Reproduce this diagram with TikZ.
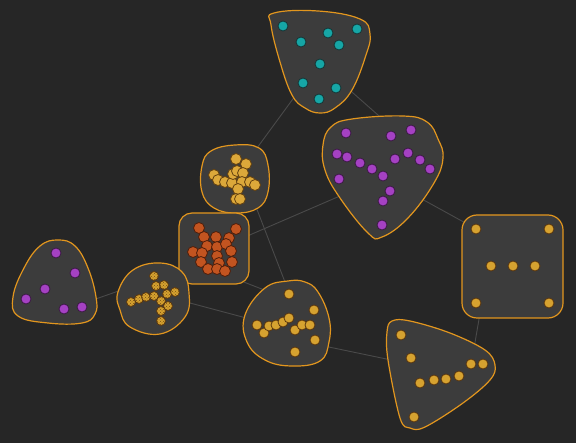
\documentclass[tikz,border=0pt]{standalone}
\usetikzlibrary{patterns}
\definecolor{bgc}{RGB}{38,38,38}
\definecolor{blobfill}{RGB}{60,60,60}
\definecolor{blobline}{RGB}{226,150,30}
\definecolor{edgec}{RGB}{74,74,74}
\definecolor{tealc}{RGB}{22,166,166}
\definecolor{purc}{RGB}{165,65,195}
\definecolor{goldc}{RGB}{214,162,48}
\definecolor{yelc}{RGB}{220,168,58}
\definecolor{orac}{RGB}{194,84,32}
\tikzset{
  blob/.style={fill=blobfill,draw=blobline,line width=1.2pt},
  edge/.style={draw=edgec,line width=0.9pt},
  dotbase/.style={circle,inner sep=0pt,line width=0.8pt},
  tdot/.style={dotbase,minimum size=10pt,fill=tealc,draw={rgb,255:red,20;green,55;blue,55}},
  pdot/.style={dotbase,minimum size=10pt,fill=purc,draw={rgb,255:red,60;green,25;blue,70}},
  gdot/.style={dotbase,minimum size=10pt,fill=goldc,draw={rgb,255:red,90;green,55;blue,15}},
  ydot/.style={dotbase,minimum size=11pt,fill=yelc,draw={rgb,255:red,100;green,65;blue,15}},
  odot/.style={dotbase,minimum size=11pt,fill=orac,draw={rgb,255:red,80;green,30;blue,10}},
  hdot/.style={dotbase,minimum size=9pt,fill=goldc,draw={rgb,255:red,90;green,55;blue,15},
    postaction={pattern=crosshatch dots,pattern color={rgb,255:red,120;green,80;blue,20}}},
}
\begin{document}
\begin{tikzpicture}[x=1pt,y=-1pt]
\fill[bgc] (0,0) rectangle (576,443);
\useasboundingbox (0,0) rectangle (576,443);
% edge end coordinates
\coordinate (tA) at (320,62);   \coordinate (yA) at (235,178);
\coordinate (tB) at (336,78);   \coordinate (pB) at (395,130);
\coordinate (pC) at (400,187);  \coordinate (qC) at (500,242);
\coordinate (qD) at (484,290);  \coordinate (rD) at (472,360);
\coordinate (gE) at (300,341);  \coordinate (rE) at (420,366);
\coordinate (sF) at (160,295);  \coordinate (gF) at (280,327);
\coordinate (lG) at (70,308);   \coordinate (sG) at (150,280);
\coordinate (oH) at (215,250);  \coordinate (pH) at (370,183);
\coordinate (yI) at (246,181);  \coordinate (gI) at (295,308);
\coordinate (oJ) at (200,265);  \coordinate (gJ) at (290,300);
\draw[edge] (tA) -- (yA);
\draw[edge] (tB) -- (pB);
\draw[edge] (pC) -- (qC);
\draw[edge] (qD) -- (rD);
\draw[edge] (gE) -- (rE);
\draw[edge] (sF) -- (gF);
\draw[edge] (lG) -- (sG);
\draw[edge] (oH) -- (pH);
\draw[edge] (yI) -- (gI);
\draw[edge] (oJ) -- (gJ);
% blobs
\draw[blob] plot[smooth cycle,tension=0.7] coordinates {(274,13) (318,11) (360,19) (370,34) (366,55) (352,90) (335,108) (320,113) (305,108) (292,95) (280,62) (271,25)};
\draw[blob] plot[smooth cycle,tension=0.7] coordinates {(323,145) (331,127) (352,119) (403,116) (427,122) (438,139) (443,158) (434,183) (408,218) (382,237) (368,233) (340,198) (325,170)};
\draw[blob] plot[smooth cycle,tension=0.7] coordinates {(202,166) (211,151) (235,145) (259,148) (268,165) (268,192) (258,208) (236,213) (214,208) (202,192)};
\draw[blob,rounded corners=13pt] (179,213) rectangle (249,284);
\draw[blob] plot[smooth cycle,tension=0.7] coordinates {(118,292) (133,270) (160,263) (182,272) (189,293) (185,317) (160,334) (130,327) (120,310)};
\draw[blob] plot[smooth cycle,tension=0.7] coordinates {(58,240) (40,246) (24,268) (13,297) (18,316) (48,323) (82,323) (95,314) (96,297) (88,268) (75,246)};
\draw[blob] plot[smooth cycle,tension=0.7] coordinates {(288,281) (305,282) (318,292) (329,318) (329,342) (320,361) (292,366) (265,360) (247,342) (245,315) (265,288)};
\draw[blob] plot[smooth cycle,tension=0.6] coordinates {(392,321) (410,321) (450,333) (485,350) (495,365) (490,380) (463,403) (425,427) (410,428) (400,418) (388,360) (387,332)};
\draw[blob,rounded corners=15pt] (462,215) rectangle (563,318);
% teal
\foreach \x/\y [count=\i] in {283/26,328/33,357/29,301/42,339/45,320/64,303/83,336/88,319/99}
  \node[tdot] (t\i) at (\x,\y) {};
% purple big
\foreach \x/\y [count=\i] in {346/133,391/136,411/130,337/154,347/157,360/163,395/159,408/153,420/160,372/169,430/169,339/179,383/176,390/191,383/201,382/225}
  \node[pdot] (p\i) at (\x,\y) {};
% yellow cluster
\foreach \x/\y [count=\i] in {236/159,246/164,214/175,218/180,225/182,232/183,233/174,237/171,243/173,242/182,250/182,255/185,238/189,236/199,240/199}
  \node[ydot] (y\i) at (\x,\y) {};
% orange cluster
\foreach \x/\y [count=\i] in {199/228,236/229,204/237,216/237,229/238,207/246,217/247,226/244,193/252,202/253,231/251,217/256,201/262,219/263,232/262,208/269,217/269,225/271}
  \node[odot] (o\i) at (\x,\y) {};
% small hatched gold
\foreach \x/\y [count=\i] in {154/276,156/286,164/285,131/302,139/299,146/297,154/296,167/294,175/292,161/301,168/306,161/311,161/321}
  \node[hdot] (s\i) at (\x,\y) {};
% left purple
\foreach \x/\y [count=\i] in {56/253,75/273,45/289,26/299,64/309,82/307}
  \node[pdot] (l\i) at (\x,\y) {};
% gold lower
\foreach \x/\y [count=\i] in {289/294,314/310,257/325,264/333,269/326,276/325,283/322,289/318,295/330,302/325,310/325,315/340,295/352}
  \node[gdot] (g\i) at (\x,\y) {};
% triangle
\foreach \x/\y [count=\i] in {401/335,411/358,471/364,483/364,420/383,434/380,446/379,459/376,414/417}
  \node[gdot] (r\i) at (\x,\y) {};
% square
\foreach \x/\y [count=\i] in {476/229,549/229,491/266,513/266,535/266,476/303,549/303}
  \node[gdot] (q\i) at (\x,\y) {};
\end{tikzpicture}
\end{document}
